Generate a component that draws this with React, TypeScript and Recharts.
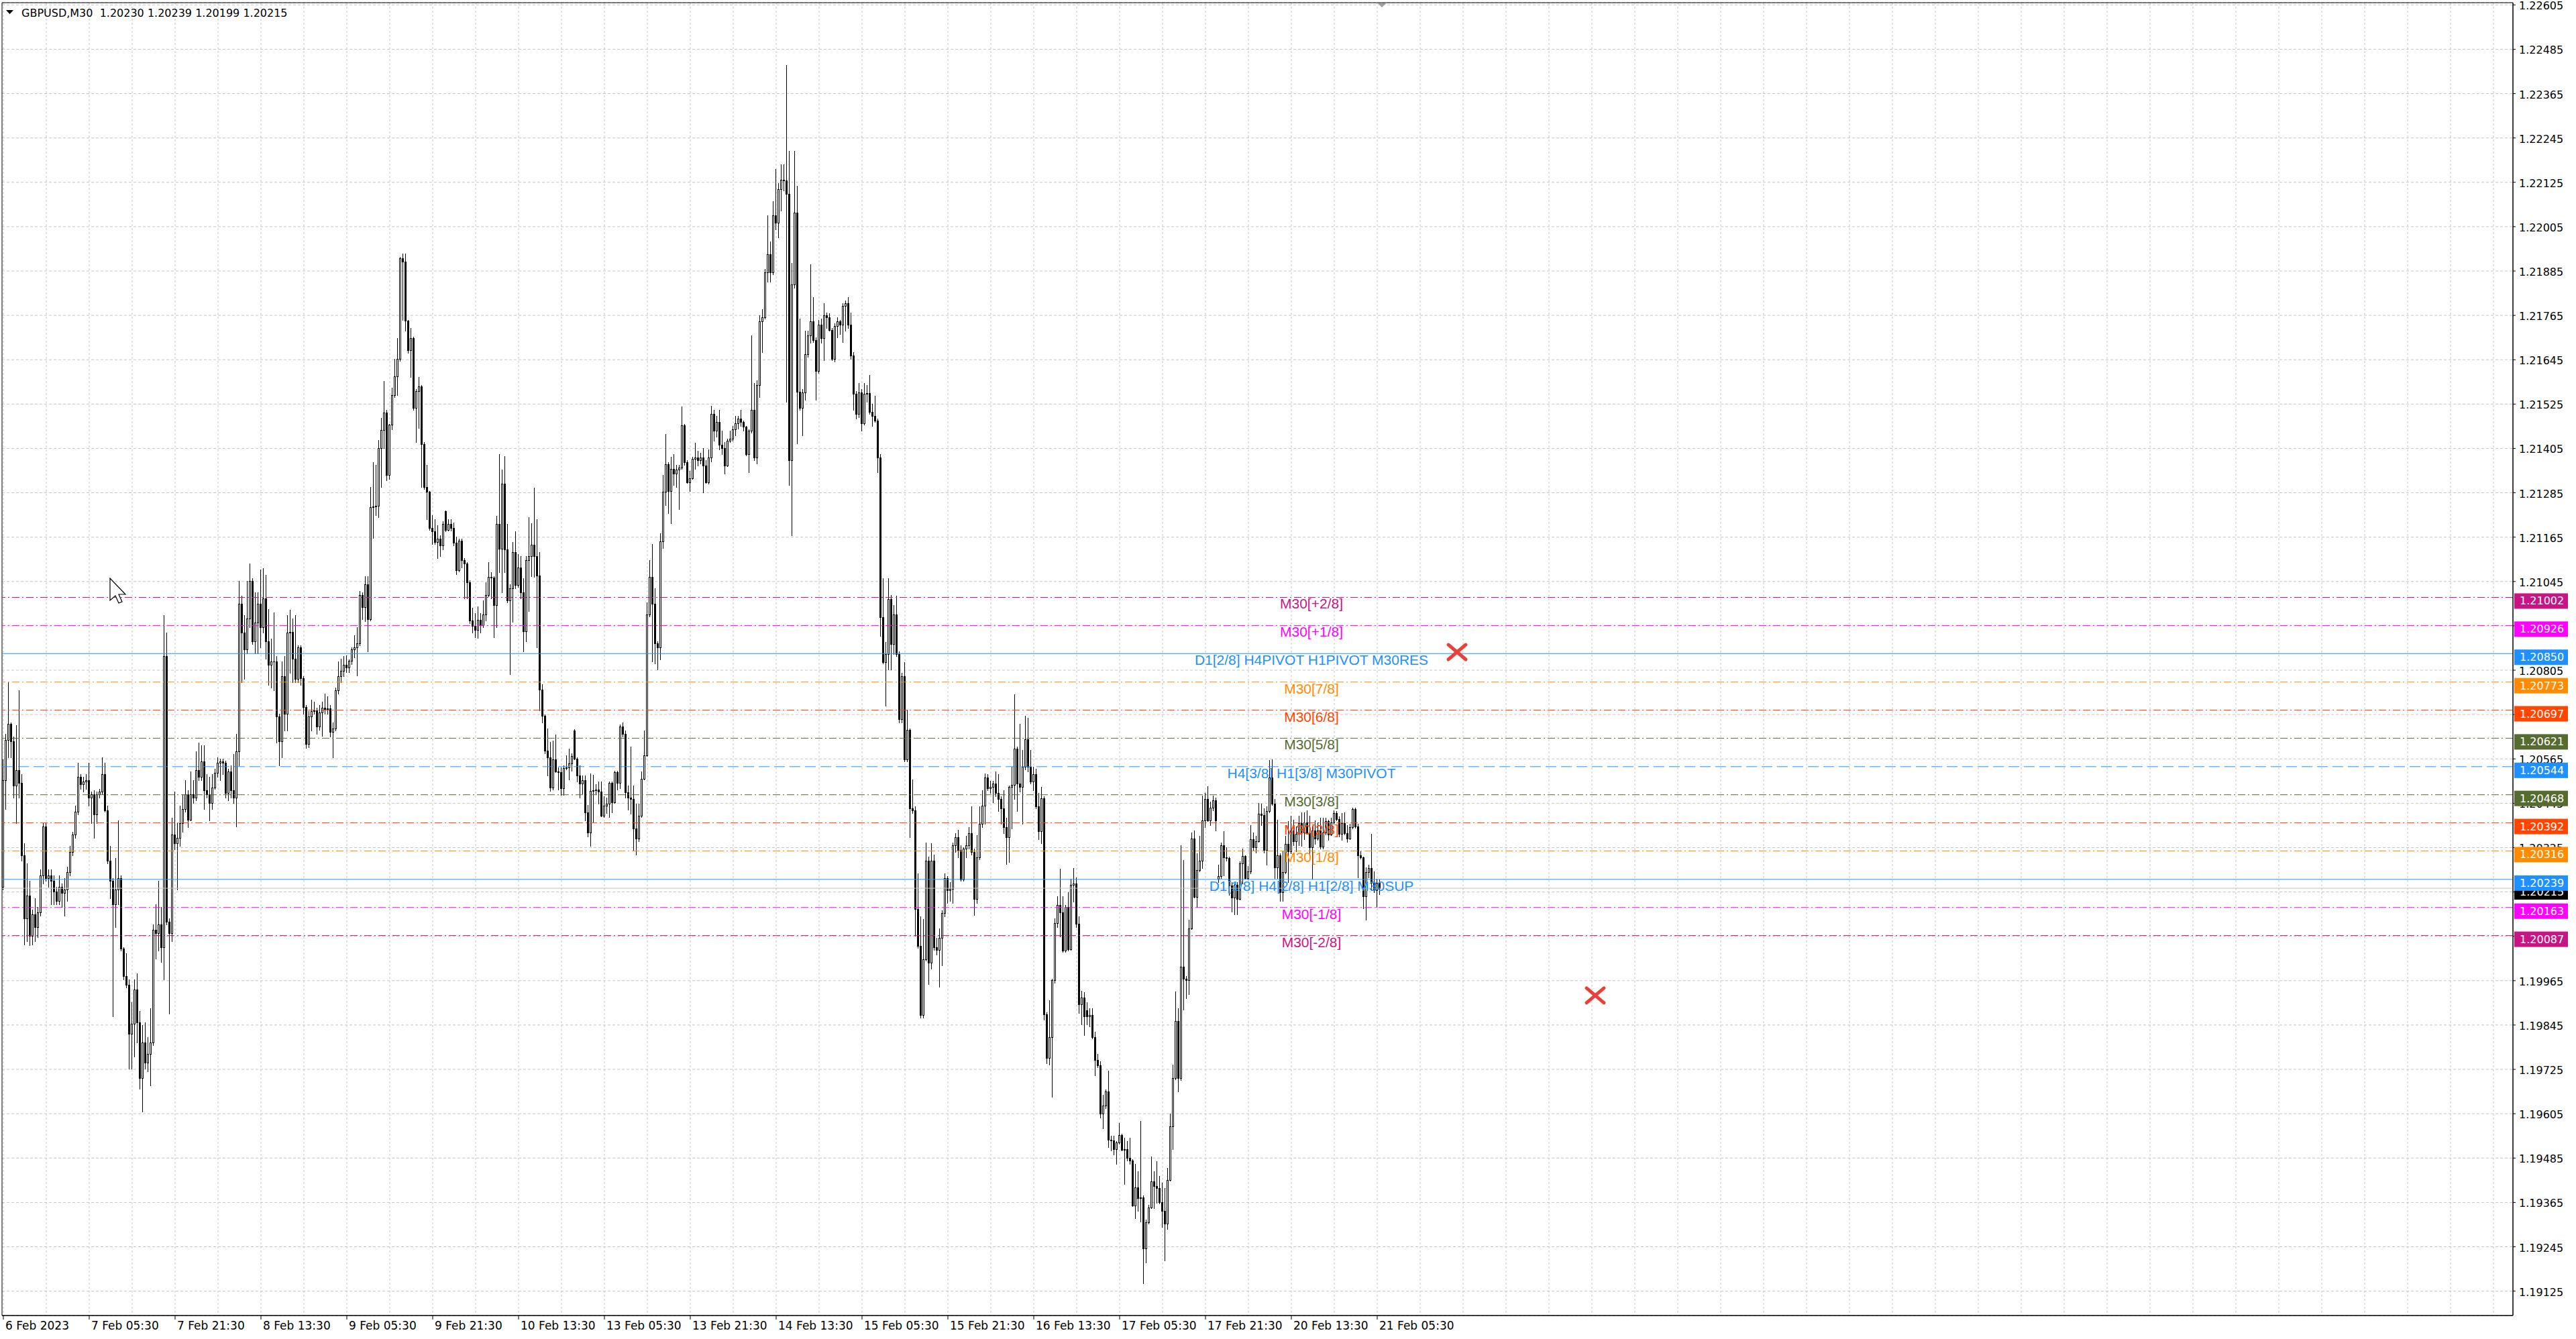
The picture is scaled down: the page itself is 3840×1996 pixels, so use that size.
import React from "react";
import {
  ComposedChart,
  Bar,
  XAxis,
  YAxis,
  CartesianGrid,
  ReferenceLine,
  ReferenceDot,
  ReferenceArea,
} from "recharts";

const CHART_W = 3840;
const CHART_H = 1996;
const AXIS_FONT = '"DejaVu Sans", Tahoma, sans-serif';
const LEVEL_FONT = '"Liberation Sans", Arial, sans-serif';

// GBPUSD M30 bars from 6 Feb 13:30 to 21 Feb 06:00, prices in points (1e-5)
const opens = [
  120219,120508,120617,120659,120612,120492,120534,120500,120305,120133,120196,120086,120144,120110,120149,120250,
  120383,120243,120250,120235,120207,120180,120219,120203,120211,120258,120313,120360,120422,120516,120497,120503,
  120508,120461,120469,120414,120469,120477,120523,120425,120289,120235,120172,120211,120243,120051,119977,119954,
  119821,119848,119941,119852,119701,119797,119743,119766,119797,120102,120094,120118,120055,120843,120125,120094,
  120360,120336,120352,120391,120430,120469,120400,120469,120461,120534,120516,120559,120481,120469,120445,120488,
  120528,120555,120559,120555,120472,120531,120481,120461,120586,120984,120906,120862,120945,121047,120883,120934,
  120984,120922,121000,120883,120820,120828,120828,120680,120612,120789,120687,120906,120909,120836,120781,120867,
  120784,120706,120606,120680,120695,120697,120653,120691,120703,120700,120702,120638,120648,120750,120789,120804,
  120820,120812,120830,120861,120866,120877,121009,120976,121037,120943,121246,121248,121250,121405,121455,121502,
  121334,121469,121549,121600,121648,121919,121911,121750,121670,121703,121515,121560,121573,121417,121301,121288,
  121189,121180,121152,121160,121142,121235,121185,121200,121190,121150,121075,121156,121103,121094,121043,120940,
  120925,120914,120942,120927,120955,121009,121057,121055,120982,121200,121134,121310,121131,120993,121026,121125,
  121035,121083,121015,120910,121103,121114,121145,121114,121061,120753,120682,120588,120570,120487,120564,120531,
  120529,120485,120540,120542,120553,120641,120566,120520,120498,120507,120421,120365,120478,120480,120482,120476,
  120412,120438,120443,120500,120448,120529,120500,120652,120632,120474,120460,120456,120377,120350,120412,120511,
  120575,120955,121057,120984,120878,120867,121153,121288,121362,121290,121350,121336,121347,121354,121468,121367,
  121314,121325,121376,121380,121373,121381,121359,121314,121381,121498,121453,121476,121415,121406,121359,121426,
  121431,121456,121473,121486,121476,121463,121390,121453,121510,121381,121576,121748,121760,121881,121931,121881,
  122036,122015,122106,122131,122130,122093,121373,121848,122043,121559,121515,121556,121660,121710,121748,121698,
  121615,121740,121703,121765,121760,121726,121648,121736,121748,121740,121790,121798,121740,121656,121553,121498,
  121556,121473,121553,121555,121503,121493,121481,121381,120948,120826,120848,120998,120876,120956,120848,120673,
  120789,120564,120643,120431,120426,120159,120059,119872,120023,120289,120014,120289,120056,120048,120081,120148,
  120243,120209,120214,120331,120353,120319,120239,120323,120331,120364,120314,120186,120298,120389,120439,120514,
  120486,120490,120498,120473,120456,120431,120381,120353,120489,120495,120593,120498,120489,120543,120619,120543,
  120503,120523,120436,120369,120459,119874,119756,119812,119966,120121,120169,120149,120046,120164,120050,120225,
  120228,120119,119902,119919,119885,119869,119872,119812,119751,119736,119605,119627,119666,119535,119533,119510,
  119527,119547,119507,119510,119486,119479,119356,119406,119376,119379,119241,119311,119352,119422,119409,119404,
  119366,119343,119308,119426,119570,119701,119855,119701,120003,119970,119966,120107,120350,120191,120265,120290,
  120399,120456,120399,120433,120453,120240,120248,120332,120298,120296,120222,120189,120225,120187,120282,120302,
  120242,120260,120348,120325,120342,120416,120413,120318,120423,120514,120443,120272,120305,120204,120258,120335,
  120315,120371,120342,120363,120391,120366,120393,120366,120325,120371,120350,120371,120328,120366,120396,120361,
  120393,120419,120403,120363,120391,120364,120350,120381,120429,120383,120305,120298,120194,120258,120270,120230,
  120210,120230,
];
const highs = [
  120563,120633,120773,120664,120625,120656,120750,120523,120336,120282,120235,120157,120188,120164,120266,120391,
  120391,120266,120266,120250,120219,120250,120227,120243,120274,120329,120367,120438,120555,120523,120516,120523,
  120555,120477,120480,120477,120484,120570,120555,120438,120329,120243,120297,120399,120250,120055,120040,119969,
  119907,119969,119985,119883,119844,119852,119813,119891,120118,120172,120235,120164,120953,120906,120133,120406,
  120477,120391,120438,120469,120508,120480,120531,120508,120586,120609,120602,120602,120523,120516,120523,120539,
  120570,120566,120566,120560,120539,120547,120578,120633,121047,121007,120953,121047,121093,121054,121015,121015,
  121078,121081,121062,120971,120890,120961,120843,120687,120828,120843,120953,120968,120945,120953,120872,120872,
  120789,120711,120695,120726,120719,120703,120711,120719,120742,120734,120711,120664,120758,120828,120836,120843,
  120845,120834,120866,120899,120921,121020,121015,121059,121059,121301,121367,121361,121427,121488,121587,121510,
  121471,121570,121648,121703,121923,121933,121933,121752,121730,121708,121565,121598,121576,121422,121361,121290,
  121224,121213,121197,121169,121208,121237,121213,121213,121204,121167,121160,121160,121108,121097,121048,120973,
  120960,120977,120960,120993,121042,121097,121070,121060,121222,121389,121347,121384,121200,121037,121152,121180,
  121119,121114,121053,121114,121218,121202,121299,121213,121125,120767,120685,120647,120610,120614,120630,120542,
  120542,120548,120575,120592,120580,120645,120570,120548,120520,120520,120440,120525,120522,120496,120504,120504,
  120463,120460,120504,120504,120533,120533,120658,120663,120641,120493,120599,120493,120443,120443,120531,120641,
  120988,121103,121147,121026,120883,121175,121334,121444,121367,121383,121389,121361,121361,121519,121471,121373,
  121345,121383,121420,121398,121393,121406,121373,121403,121520,121510,121493,121510,121453,121423,121431,121453,
  121465,121493,121493,121510,121481,121465,121456,121710,121581,121590,121765,121781,121890,122036,121965,122073,
  122160,122123,122173,122173,122443,122210,121906,122210,122115,121756,121565,121723,121723,121903,121815,121706,
  121753,121756,121798,121773,121770,121730,121743,121760,121753,121798,121806,121815,121773,121665,121560,121581,
  121565,121581,121576,121603,121526,121548,121486,121390,121053,120881,121053,121009,120981,121006,120856,120798,
  120826,120698,120648,120509,120436,120256,120139,120131,120339,120300,120336,120306,120081,120106,120156,120256,
  120248,120231,120339,120364,120373,120331,120326,120356,120381,120436,120323,120359,120436,120481,120526,120523,
  120506,120506,120531,120523,120464,120481,120406,120493,120543,120739,120598,120659,120589,120681,120676,120589,
  120543,120539,120473,120489,120464,119879,119912,119970,120134,120194,120268,120194,120169,120204,120240,120270,
  120245,120139,119938,119933,119907,119891,119891,119827,119766,119746,119656,119671,119721,119545,119545,119530,
  119580,119550,119540,119530,119540,119482,119469,119449,119585,119384,119318,119359,119490,119449,119476,119436,
  119419,119404,119459,119605,119738,119936,119891,120332,120292,119978,120129,120366,120371,120310,120356,120466,
  120473,120491,120449,120466,120461,120278,120338,120369,120325,120300,120232,120228,120232,120288,120322,120305,
  120275,120386,120366,120356,120446,120443,120431,120436,120562,120564,120456,120401,120310,120315,120356,120396,
  120411,120401,120383,120411,120421,120421,120426,120411,120383,120399,120393,120406,120406,120406,120401,120406,
  120426,120423,120409,120419,120421,120386,120389,120433,120433,120389,120315,120300,120272,120278,120362,120260,
  120240,120239,
];
const lows = [
  120211,120430,120570,120570,120461,120391,120461,120289,120063,120071,120060,120063,120071,120082,120141,120227,
  120235,120219,120172,120172,120172,120172,120164,120141,120180,120250,120305,120352,120414,120484,120477,120484,
  120438,120391,120352,120391,120461,120469,120422,120282,120188,119868,120110,120172,120047,119969,119946,119727,
  119727,119759,119797,119673,119610,119727,119720,119681,119790,120024,120047,120016,119969,120118,119876,120071,
  120321,120211,120329,120367,120422,120380,120399,120445,120453,120508,120508,120430,120461,120399,120430,120484,
  120516,120508,120523,120461,120453,120461,120445,120383,120547,120773,120781,120851,120922,120875,120851,120851,
  120867,120906,120836,120765,120758,120750,120609,120547,120570,120641,120641,120797,120773,120773,120773,120765,
  120687,120594,120597,120641,120687,120633,120644,120628,120687,120687,120625,120570,120641,120742,120773,120789,
  120800,120800,120822,120839,120790,120872,120943,120938,120855,120940,121163,121224,121219,121301,121405,121318,
  121323,121457,121543,121549,121642,121752,121724,121664,121598,121510,121422,121460,121301,121296,121213,121185,
  121147,121147,121109,121114,121131,121180,121182,121182,121142,121064,121072,121083,120999,120999,120933,120907,
  120894,120892,120907,120922,120940,121004,120999,120894,120922,121070,121015,121070,120988,120795,120936,121026,
  121031,120999,120855,120883,120965,121059,121057,120866,120696,120663,120580,120520,120478,120482,120529,120482,
  120467,120467,120537,120509,120533,120564,120504,120460,120471,120399,120355,120330,120394,120471,120443,120410,
  120408,120419,120408,120421,120445,120482,120485,120625,120460,120427,120416,120317,120306,120342,120408,120509,
  120573,120950,120828,120823,120806,120834,121136,121251,121229,121202,121306,121301,121241,121350,121361,121312,
  121290,121323,121350,121359,121364,121286,121311,121310,121369,121426,121436,121403,121390,121336,121356,121423,
  121426,121440,121459,121465,121453,121386,121340,121448,121373,121364,121543,121665,121756,121856,121856,121876,
  121998,121976,122048,122103,121531,121306,121169,121840,121419,121510,121440,121536,121653,121690,121693,121536,
  121610,121690,121643,121731,121723,121643,121640,121706,121715,121693,121723,121731,121648,121510,121486,121490,
  121453,121470,121531,121498,121465,121476,121340,120898,120823,120709,120806,120806,120848,120843,120664,120664,
  120559,120559,120353,120419,120086,120053,119864,119864,120019,119956,119998,120048,120036,119948,120006,120139,
  120176,120181,120176,120314,120298,120236,120236,120298,120323,120306,120142,120176,120293,120381,120389,120481,
  120473,120448,120464,120423,120389,120364,120281,120286,120376,120456,120423,120476,120389,120536,120531,120498,
  120481,120431,120348,120336,119860,119741,119738,119651,119960,120109,120084,120043,120043,120046,120048,120179,
  120109,119877,119847,119817,119847,119842,119809,119708,119730,119595,119565,119619,119515,119505,119495,119469,
  119523,119505,119414,119479,119469,119354,119323,119343,119313,119147,119203,119308,119349,119349,119364,119362,
  119298,119208,119293,119424,119510,119698,119666,119696,119887,119917,119928,120104,120189,120164,120260,120270,
  120381,120396,120385,120426,120371,120232,120242,120250,120290,120197,120151,120144,120144,120184,120228,120240,
  120238,120255,120318,120312,120340,120386,120312,120278,120421,120441,120242,120242,120181,120181,120255,120232,
  120310,120332,120315,120332,120330,120348,120363,120310,120240,120335,120345,120322,120322,120361,120345,120359,
  120389,120398,120355,120345,120361,120340,120348,120376,120379,120245,120295,120161,120129,120245,120209,120204,
  120164,120199,
];
const closes = [
  120508,120617,120659,120612,120492,120534,120500,120305,120133,120196,120086,120144,120110,120149,120250,120383,
  120243,120250,120235,120207,120180,120219,120203,120211,120258,120313,120360,120422,120516,120497,120503,120508,
  120461,120469,120414,120469,120477,120523,120425,120289,120235,120172,120211,120243,120051,119977,119954,119821,
  119848,119941,119852,119701,119797,119743,119766,119797,120102,120094,120118,120055,120843,120125,120094,120360,
  120336,120352,120391,120430,120469,120400,120469,120461,120534,120516,120559,120481,120469,120445,120488,120528,
  120555,120559,120555,120472,120531,120481,120461,120586,120984,120906,120862,120945,121047,120883,120934,120984,
  120922,121000,120883,120820,120828,120828,120680,120612,120789,120687,120906,120909,120836,120781,120867,120784,
  120706,120606,120680,120695,120697,120653,120691,120703,120700,120702,120638,120648,120750,120789,120804,120820,
  120812,120830,120861,120866,120877,121009,120976,121037,120943,121246,121248,121250,121405,121455,121502,121334,
  121469,121549,121600,121648,121919,121911,121750,121670,121703,121515,121560,121573,121417,121301,121288,121189,
  121180,121152,121160,121142,121200,121185,121200,121190,121150,121075,121156,121103,121094,121043,120940,120925,
  120914,120942,120927,120955,121009,121057,121055,120982,121200,121134,121310,121131,120993,121026,121125,121035,
  121083,121015,120910,121103,121114,121145,121114,121061,120753,120682,120588,120570,120487,120564,120531,120529,
  120485,120540,120542,120553,120573,120566,120520,120498,120507,120421,120365,120478,120480,120482,120476,120412,
  120438,120443,120500,120448,120529,120500,120652,120632,120474,120460,120456,120377,120350,120412,120511,120575,
  120955,121057,120984,120878,120867,121153,121288,121362,121290,121350,121336,121347,121354,121468,121367,121314,
  121325,121376,121380,121373,121381,121359,121314,121381,121498,121453,121476,121415,121406,121359,121426,121431,
  121456,121473,121486,121476,121463,121390,121453,121510,121381,121576,121748,121760,121881,121931,121881,122036,
  122015,122106,122131,122130,122093,121373,121848,122043,121559,121515,121556,121660,121710,121748,121698,121615,
  121740,121703,121765,121760,121726,121648,121736,121748,121740,121790,121798,121740,121656,121553,121498,121556,
  121473,121553,121555,121503,121493,121481,121381,120948,120826,120848,120998,120876,120956,120848,120673,120789,
  120564,120643,120431,120426,120159,120059,119872,120023,120289,120014,120289,120056,120048,120081,120148,120243,
  120209,120214,120331,120353,120319,120239,120323,120331,120364,120314,120186,120298,120389,120439,120514,120486,
  120490,120498,120473,120456,120431,120381,120353,120489,120495,120593,120498,120489,120543,120619,120543,120503,
  120523,120436,120369,120459,119874,119756,119812,119966,120121,120169,120149,120046,120164,120050,120225,120228,
  120119,119902,119919,119869,119869,119872,119812,119751,119736,119605,119627,119666,119535,119533,119510,119527,
  119547,119507,119510,119486,119479,119356,119406,119376,119379,119241,119311,119352,119422,119409,119404,119366,
  119343,119308,119426,119570,119701,119855,119701,120003,119970,119966,120107,120350,120191,120265,120290,120399,
  120456,120399,120433,120453,120399,120248,120332,120298,120296,120222,120189,120225,120187,120282,120302,120242,
  120260,120348,120325,120342,120416,120413,120318,120423,120514,120443,120272,120305,120204,120258,120335,120315,
  120371,120342,120363,120391,120366,120393,120366,120325,120371,120350,120371,120328,120366,120396,120361,120393,
  120419,120403,120363,120391,120364,120350,120381,120429,120383,120305,120298,120194,120258,120270,120230,120210,
  120230,120215,
];

// time axis: bar index of each label
const timeTickBars = [0, 32, 64, 96, 128, 160, 192, 224, 256, 288, 320, 352, 384, 416, 448, 480, 512];
const timeTickLabels = [
  "6 Feb 2023", "7 Feb 05:30", "7 Feb 21:30", "8 Feb 13:30", "9 Feb 05:30", "9 Feb 21:30",
  "10 Feb 13:30", "13 Feb 05:30", "13 Feb 21:30", "14 Feb 13:30", "15 Feb 05:30", "15 Feb 21:30",
  "16 Feb 13:30", "17 Feb 05:30", "17 Feb 21:30", "20 Feb 13:30", "21 Feb 05:30",
];

const priceTicks = [
  1.22605, 1.22485, 1.22365, 1.22245, 1.22125, 1.22005, 1.21885, 1.21765, 1.21645, 1.21525,
  1.21405, 1.21285, 1.21165, 1.21045, 1.20925, 1.20805, 1.20685, 1.20565, 1.20445, 1.20325,
  1.20205, 1.20085, 1.19965, 1.19845, 1.19725, 1.19605, 1.19485, 1.19365, 1.19245, 1.19125,
];

// Murrey math levels
const levelNames = [
  "M30[+2/8]", "M30[+1/8]", "D1[2/8] H4PIVOT H1PIVOT M30RES", "M30[7/8]", "M30[6/8]", "M30[5/8]",
  "H4[3/8] H1[3/8] M30PIVOT", "M30[3/8]", "M30[2/8]", "M30[1/8]", "D1[1/8] H4[2/8] H1[2/8] M30SUP",
  "M30[-1/8]", "M30[-2/8]",
];
const levelPrices = [
  1.21002, 1.20926, 1.2085, 1.20773, 1.20697, 1.20621, 1.20544, 1.20468, 1.20392, 1.20316, 1.20239, 1.20163, 1.20087,
];
const levelColors = [
  "#c71585", "#ff00ff", "#1e90ff", "#ff8c00", "#ff4500", "#556b2f", "#1e90ff",
  "#556b2f", "#ff4500", "#ff8c00", "#1e90ff", "#ff00ff", "#c71585",
];
const levelKinds = [
  "dashdot", "dashdot", "solid", "dashdot", "dashdot", "dashdot", "dash",
  "dashdot", "dashdot", "dashdot", "solid", "dashdot", "dashdot",
];

const bidPrice = 1.20215;
const headerText = "GBPUSD,M30  1.20230 1.20239 1.20199 1.20215";

// price boxes on the right scale: bid first so the level boxes sit on top of it
const boxPrices = [bidPrice, ...levelPrices];
const boxColors = ["#000000", ...levelColors];

// red cross objects on the chart (bar index, price)
const crossBars = [541.75, 593.25];
const crossPrices = [1.20854, 1.19925];

const X_DOMAIN: [number, number] = [-0.5, 935.25];
const Y_DOMAIN: [number, number] = [1.19059, 1.22611];
const LABEL_BAR = 487.5;
const SHIFT_BAR = 513.75;

const gridCols: number[] = [];
for (let j = 0; j <= 928; j += 16) gridCols.push(j);

const dashOf: Record<string, string | undefined> = {
  solid: undefined,
  dash: "16 7",
  dashdot: "11 4 2 4",
};

const n = Math.min(opens.length, highs.length, lows.length, closes.length);
const bars = closes.slice(0, n).map((c, j) => ({
  j,
  open: opens[j] / 1e5,
  high: highs[j] / 1e5,
  low: lows[j] / 1e5,
  close: c / 1e5,
}));

function Candle(props: any) {
  const { x, y, width, height, payload } = props;
  if (x == null || y == null || !payload) return null;
  const { open, high, low, close } = payload;
  const px = Math.floor(x + width / 2);
  const k = high > low ? height / (high - low) : 0;
  const yAt = (p: number) => y + (high - p) * k;
  const top = Math.round(yAt(Math.max(open, close)));
  const bot = Math.round(yAt(Math.min(open, close)));
  const yH = Math.round(y);
  const yL = Math.round(y + height);
  const bull = close >= open;
  return (
    <g shapeRendering="crispEdges">
      <line x1={px + 0.5} x2={px + 0.5} y1={yH} y2={yL + 1} stroke="#000" strokeWidth={1} />
      {bot - top < 1 ? (
        <line x1={px - 1} x2={px + 2} y1={top + 0.5} y2={top + 0.5} stroke="#000" strokeWidth={1} />
      ) : bull ? (
        <rect x={px - 0.5} y={top + 0.5} width={2} height={bot - top} fill="#fff" stroke="#000" strokeWidth={1} />
      ) : (
        <rect x={px - 1} y={top} width={3} height={bot - top + 1} fill="#000" />
      )}
    </g>
  );
}

function TimeTick(props: any) {
  const { x, y, payload } = props;
  const i = timeTickBars.indexOf(payload.value);
  if (i < 0) return null;
  return (
    <text x={x + 3} y={y + 13} fill="#000" fontSize={17} fontFamily={AXIS_FONT}>
      {timeTickLabels[i]}
    </text>
  );
}

function PriceTick(props: any) {
  const { x, y, payload } = props;
  return (
    <text x={x} y={y + 7} fill="#000" fontSize={16} fontFamily={AXIS_FONT}>
      {Number(payload.value).toFixed(5)}
    </text>
  );
}

// drawn by a second, mirrored right axis so the boxes cover the scale labels
function PriceBoxTick(props: any) {
  const { x, y, payload } = props;
  const i = boxPrices.indexOf(payload.value);
  if (i < 0) return null;
  const bx = x + 2;
  return (
    <g>
      <rect x={bx} y={y - 6} width={80} height={23} fill={boxColors[i]} />
      <text x={bx + 8} y={y + 11} fill="#fff" fontSize={16} fontFamily={AXIS_FONT}>
        {boxPrices[i].toFixed(5)}
      </text>
    </g>
  );
}

function levelLabel(i: number) {
  return (props: any) => {
    const vb = props.viewBox;
    if (!vb) return null;
    const cx = vb.x + ((LABEL_BAR - X_DOMAIN[0]) / (X_DOMAIN[1] - X_DOMAIN[0])) * vb.width;
    return (
      <text x={cx} y={vb.y + 17} textAnchor="middle" fill={levelColors[i]} fontSize={21} fontFamily={LEVEL_FONT}>
        {levelNames[i]}
      </text>
    );
  };
}

function CrossShape(props: any) {
  const { cx, cy } = props;
  if (cx == null) return null;
  const h = 13;
  return (
    <g stroke="#e8413c" strokeWidth={5} strokeLinecap="round">
      <line x1={cx - h} y1={cy - h + 2} x2={cx + h} y2={cy + h - 2} />
      <line x1={cx - h} y1={cy + h - 2} x2={cx + h} y2={cy - h + 2} />
    </g>
  );
}

function ShiftMark(props: any) {
  const { cx, cy } = props;
  if (cx == null) return null;
  return <polygon points={`${cx - 6},${cy + 1} ${cx + 6},${cy + 1} ${cx},${cy + 7}`} fill="#a0a0a0" />;
}

export default function App() {
  return (
    <div style={{ position: "relative", width: CHART_W, height: CHART_H, background: "#fff", overflow: "hidden" }}>
      <style>{"html,body{margin:0;padding:0;overflow:hidden;background:#fff}"}</style>
      <ComposedChart
        width={CHART_W}
        height={CHART_H}
        data={bars}
        margin={{ top: 4, right: 0, bottom: 0, left: 3 }}
      >
        <CartesianGrid stroke="#c4c4c4" strokeDasharray="4 3" vertical={false} />
        <CartesianGrid stroke="#c4c4c4" strokeDasharray="3 3" horizontal={false} verticalValues={gridCols} />
        <XAxis
          type="number"
          dataKey="j"
          domain={X_DOMAIN}
          allowDataOverflow
          ticks={timeTickBars}
          interval={0}
          height={35}
          tickSize={6}
          tick={<TimeTick />}
          axisLine={{ stroke: "#000" }}
          tickLine={{ stroke: "#000" }}
        />
        <YAxis
          type="number"
          orientation="right"
          domain={Y_DOMAIN}
          allowDataOverflow
          ticks={priceTicks}
          interval={0}
          width={94}
          tickSize={4}
          tickMargin={5}
          tick={<PriceTick />}
          axisLine={{ stroke: "#000" }}
          tickLine={{ stroke: "#000" }}
        />
        <YAxis
          yAxisId="boxes"
          type="number"
          orientation="right"
          mirror
          domain={Y_DOMAIN}
          allowDataOverflow
          ticks={boxPrices}
          interval={0}
          tickSize={0}
          tickMargin={0}
          tick={<PriceBoxTick />}
          axisLine={false}
          tickLine={false}
        />
        <ReferenceArea
          x1={X_DOMAIN[0]}
          x2={X_DOMAIN[1]}
          y1={Y_DOMAIN[0]}
          y2={Y_DOMAIN[1]}
          fill="none"
          fillOpacity={0}
          stroke="#000"
          strokeOpacity={1}
        />
        <Bar
          dataKey={(d: any) => [d.low, d.high]}
          shape={<Candle />}
          barSize={3}
          isAnimationActive={false}
        />
        <ReferenceLine y={bidPrice} stroke="#c0c0c0" strokeWidth={1} />
        {levelPrices.map((p, i) => (
          <ReferenceLine
            key={levelNames[i]}
            y={p}
            stroke={levelColors[i]}
            strokeWidth={1}
            strokeDasharray={dashOf[levelKinds[i]]}
            label={levelLabel(i)}
          />
        ))}
        {crossBars.map((b, i) => (
          <ReferenceDot key={`x${i}`} x={b} y={crossPrices[i]} r={1} shape={<CrossShape />} />
        ))}
        <ReferenceDot x={SHIFT_BAR} y={Y_DOMAIN[1]} r={1} shape={<ShiftMark />} />
      </ComposedChart>
      <svg style={{ position: "absolute", left: 0, top: 0 }} width={460} height={40}>
        <polygon points="9,15 20,15 14.5,21" fill="#000" />
        <text x={32} y={25} fill="#000" fontSize={16} fontFamily={AXIS_FONT} xmlSpace="preserve">
          {headerText}
        </text>
      </svg>
      <svg style={{ position: "absolute", left: 163, top: 861 }} width={30} height={42}>
        <path
          d="M1 1 L1 34 L9 27 L14 38 L19 36 L14 25 L24 25 Z"
          fill="#fff"
          stroke="#000"
          strokeWidth={1.2}
        />
      </svg>
    </div>
  );
}
